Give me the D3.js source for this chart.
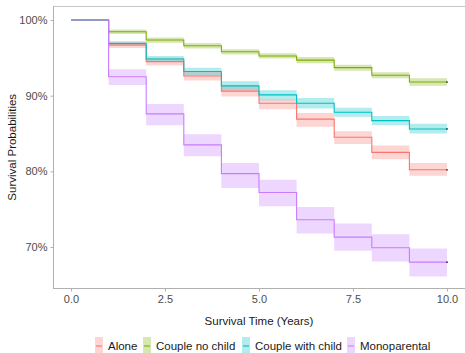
<html>
<head>
<meta charset="utf-8">
<title>Survival</title>
<script src="https://d3js.org/d3.v7.min.js"></script>
<style>
  body { margin: 0; background: #fff; }
  text { font-family: "Liberation Sans", Arial, sans-serif; }
</style>
</head>
<body>
<div id="chart"></div>
<script>
    var width = 465,
        height = 353;

    // data (survival at each year 0..10)
    var times = [0, 1, 2, 3, 4, 5, 6, 7, 8, 9, 10];
    var groups = ["Alone", "Couple no child", "Couple with child", "Monoparental"];
    var colors = ["#F8766D", "#7CAE00", "#00BFC4", "#C77CFF"];

    var aloneSurv  = [1, 0.967, 0.945, 0.926, 0.906, 0.890, 0.869, 0.845, 0.825, 0.802, 0.802];
    var aloneLow   = [1, 0.963, 0.940, 0.920, 0.899, 0.882, 0.859, 0.836, 0.816, 0.794, 0.794];
    var aloneHigh  = [1, 0.971, 0.950, 0.932, 0.913, 0.895, 0.877, 0.853, 0.834, 0.811, 0.811];

    var noChildSurv = [1, 0.9845, 0.9735, 0.966, 0.958, 0.9525, 0.947, 0.937, 0.927, 0.918, 0.918];
    var noChildLow  = [1, 0.9815, 0.970, 0.9625, 0.9545, 0.949, 0.943, 0.933, 0.923, 0.913, 0.913];
    var noChildHigh = [1, 0.9875, 0.977, 0.9695, 0.9615, 0.956, 0.951, 0.941, 0.931, 0.923, 0.923];

    var withChildSurv = [1, 0.969, 0.9485, 0.932, 0.913, 0.901, 0.890, 0.878, 0.867, 0.856, 0.856];
    var withChildLow  = [1, 0.966, 0.9445, 0.927, 0.907, 0.894, 0.883, 0.872, 0.861, 0.850, 0.850];
    var withChildHigh = [1, 0.972, 0.9525, 0.937, 0.919, 0.907, 0.897, 0.884, 0.873, 0.863, 0.863];

    var monoSurv = [1, 0.925, 0.876, 0.835, 0.797, 0.772, 0.736, 0.713, 0.699, 0.680, 0.680];
    var monoLow  = [1, 0.914, 0.861, 0.820, 0.778, 0.754, 0.718, 0.695, 0.681, 0.661, 0.661];
    var monoHigh = [1, 0.935, 0.889, 0.849, 0.811, 0.789, 0.753, 0.731, 0.717, 0.698, 0.698];

    var xTicks = [0, 2.5, 5, 7.5, 10];
    var yTicks = [0.7, 0.8, 0.9, 1.0];

    var series = [
        {name: groups[0], color: colors[0], surv: aloneSurv, low: aloneLow, high: aloneHigh},
        {name: groups[1], color: colors[1], surv: noChildSurv, low: noChildLow, high: noChildHigh},
        {name: groups[2], color: colors[2], surv: withChildSurv, low: withChildLow, high: withChildHigh},
        {name: groups[3], color: colors[3], surv: monoSurv, low: monoLow, high: monoHigh}
    ];

    var margin = {top: 6, right: 0, bottom: 64, left: 53};

    var x = d3.scaleLinear().domain([0, 10]).range([71, 447]);
    var y = d3.scaleLinear().domain([0.7, 1.0]).range([247, 20]);

    var svg = d3.select("#chart").append("svg")
        .attr("width", width)
        .attr("height", height);

    var plotTop = margin.top,
        plotBottom = height - margin.bottom - 0.5,
        plotLeft = margin.left;

    // step points from each series
    function steps(vals) {
        var pts = [];
        times.forEach(function (t, i) {
            if (i > 0) pts.push([t, vals[i - 1]]);
            pts.push([t, vals[i]]);
        });
        return pts;
    }

    var area = d3.area()
        .x(function (d) { return x(d[0]); })
        .y0(function (d) { return y(d[1]); })
        .y1(function (d) { return y(d[2]); })
        .curve(d3.curveStepAfter);

    var line = d3.line()
        .x(function (d) { return x(d[0]); })
        .y(function (d) { return y(d[1]); })
        .curve(d3.curveStepAfter);

    // confidence bands
    series.forEach(function (s) {
        var pts = times.map(function (t, i) { return [t, s.low[i], s.high[i]]; });
        svg.append("path")
            .datum(pts)
            .attr("d", area)
            .attr("fill", s.color)
            .attr("fill-opacity", 0.3);
    });

    // survival curves
    series.forEach(function (s) {
        var pts = times.map(function (t, i) { return [t, s.surv[i]]; });
        svg.append("path")
            .datum(pts)
            .attr("d", line)
            .attr("fill", "none")
            .attr("stroke", s.color)
            .attr("stroke-width", 1.1);
        // censor dot at end
        svg.append("circle")
            .attr("cx", x(10))
            .attr("cy", y(s.surv[s.surv.length - 1]))
            .attr("r", 0.9)
            .attr("fill", "#333");
    });

    // axis lines
    svg.append("line")
        .attr("x1", plotLeft).attr("x2", width)
        .attr("y1", plotTop + 0.5).attr("y2", plotTop + 0.5)
        .attr("stroke", "#c8c8c8").attr("stroke-width", 1);

    var xAxis = svg.append("g")
        .attr("transform", "translate(0," + plotBottom + ")")
        .call(d3.axisBottom(x).tickValues(xTicks).tickSize(3).tickPadding(4)
            .tickFormat(d3.format(".1f")));
    xAxis.select(".domain").attr("d", "M" + plotLeft + ",0H" + width).attr("stroke", "#b0b0b0");

    var yAxis = svg.append("g")
        .attr("transform", "translate(" + (plotLeft + 0.5) + ",0)")
        .call(d3.axisLeft(y).tickValues(yTicks).tickSize(3).tickPadding(3)
            .tickFormat(d3.format(".0%")));
    yAxis.select(".domain").attr("d", "M0," + plotTop + "V" + plotBottom).attr("stroke", "#b0b0b0");

    svg.selectAll(".tick line").attr("stroke", "#b0b0b0");
    svg.selectAll(".tick text")
        .attr("fill", "#4d4d4d")
        .style("font-size", "11px")
        .style("font-family", "Liberation Sans, Arial, sans-serif");

    // axis titles
    svg.append("text")
        .attr("x", 259).attr("y", 325)
        .attr("text-anchor", "middle")
        .style("font-size", "11.5px")
        .attr("fill", "#1a1a1a")
        .text("Survival Time (Years)");

    svg.append("text")
        .attr("transform", "translate(16," + ((plotTop + plotBottom) / 2) + ") rotate(-90)")
        .attr("text-anchor", "middle")
        .style("font-size", "11.5px")
        .attr("fill", "#1a1a1a")
        .text("Survival Probabilities");

    // legend
    var legendX = [95, 143, 242, 347];
    var legend = svg.selectAll(".legend").data(series)
        .enter().append("g")
        .attr("class", "legend")
        .attr("transform", function (d, i) { return "translate(" + legendX[i] + ",337)"; });

    legend.append("rect")
        .attr("width", 8).attr("height", 17)
        .attr("fill", function (d) { return d.color; })
        .attr("fill-opacity", 0.3);

    legend.append("line")
        .attr("x1", 1).attr("x2", 7)
        .attr("y1", 9).attr("y2", 9)
        .attr("stroke", function (d) { return d.color; })
        .attr("stroke-width", 1.1);

    legend.append("text")
        .attr("x", 13).attr("y", 13)
        .style("font-size", "11.5px")
        .attr("fill", "#1a1a1a")
        .text(function (d) { return d.name; });
</script>
</body>
</html>
